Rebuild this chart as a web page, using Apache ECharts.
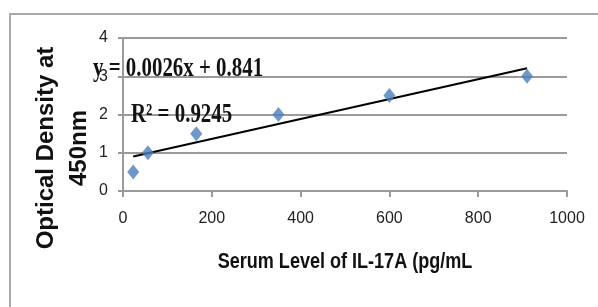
<!DOCTYPE html>
<html>
<head>
<meta charset="utf-8">
<script src="https://cdn.jsdelivr.net/npm/echarts@6/dist/echarts.min.js"></script>
<style>
    html, body { margin: 0; padding: 0; background: #fff; }
    #chart { width: 598px; height: 307px; }
</style>
</head>
<body>
<div id="chart"></div>
<script>
// Standard curve points: serum IL-17A (pg/mL) vs optical density at 450nm
const serumLevels = [23, 56, 165, 350, 600, 910];
const opticalDensity = [0.5, 1.0, 1.5, 2.0, 2.5, 3.0];

// Linear trendline as printed on the chart
const trendSlope = 0.0026;
const trendIntercept = 0.841;
const equationText = 'y = 0.0026x + 0.841';
const rSquaredText = 'R² = 0.9245';

const xTitle = 'Serum Level of IL-17A (pg/mL';
const yTitle = 'Optical Density at\n450nm';

const points = serumLevels.map((x, i) => [x, opticalDensity[i]]);
const xStart = Math.min(...serumLevels);
const xEnd = Math.max(...serumLevels);
const trendPoints = [
    [xStart, trendSlope * xStart + trendIntercept],
    [xEnd, trendSlope * xEnd + trendIntercept]
];

const gray = '#9a9a9a';
const sans = '"Liberation Sans", Arial, sans-serif';
const serif = '"Liberation Serif", "Times New Roman", serif';

const chart = echarts.init(document.getElementById('chart'));

chart.setOption({
    animation: false,
    backgroundColor: '#fff',
    grid: { left: 123, right: 31, top: 38, bottom: 116 },
    xAxis: {
        type: 'value',
        min: 0,
        max: 1000,
        interval: 200,
        splitLine: { show: false },
        axisLine: { lineStyle: { color: gray, width: 2 } },
        axisTick: { show: true, length: 6, lineStyle: { color: gray, width: 2 } },
        axisLabel: {
            margin: 20,
            fontFamily: sans,
            fontSize: 16,
            color: '#222',
            formatter: (v) => String(v)
        }
    },
    yAxis: {
        type: 'value',
        min: 0,
        max: 4,
        interval: 1,
        splitLine: { show: true, lineStyle: { color: gray, width: 2 } },
        axisLine: { show: true, lineStyle: { color: gray, width: 2 } },
        axisTick: { show: true, length: 5, lineStyle: { color: gray, width: 2 } },
        axisLabel: { margin: 15, fontFamily: sans, fontSize: 16, color: '#222' }
    },
    series: [
        {
            type: 'line',
            data: trendPoints,
            symbol: 'none',
            silent: true,
            lineStyle: { color: '#000', width: 2 },
            z: 3
        },
        {
            type: 'scatter',
            data: points,
            symbol: 'diamond',
            symbolSize: [12, 15],
            itemStyle: { color: '#4a7ebb' },
            z: 4
        }
    ],
    graphic: [
        {
            // outer chart-area border (cut off on the right and bottom)
            type: 'rect',
            shape: { x: 10, y: 14, width: 600, height: 310 },
            style: { fill: 'none', stroke: '#aaa', lineWidth: 2 },
            z: -1
        },
        {
            type: 'text',
            x: 63,
            y: 148,
            rotation: Math.PI / 2,
            style: {
                text: yTitle,
                fontFamily: sans,
                fontWeight: 'bold',
                fontSize: 24,
                lineHeight: 33,
                fill: '#111',
                align: 'center',
                verticalAlign: 'middle'
            },
            z: 10
        },
        {
            type: 'text',
            x: 345,
            y: 262,
            scaleX: 0.82,
            style: {
                text: xTitle,
                fontFamily: sans,
                fontWeight: 'bold',
                fontSize: 22,
                fill: '#111',
                align: 'center',
                verticalAlign: 'middle'
            },
            z: 10
        },
        {
            type: 'text',
            x: 93,
            y: 69,
            scaleX: 0.95,
            scaleY: 1.2,
            style: {
                text: equationText,
                fontFamily: serif,
                fontWeight: 'bold',
                fontSize: 22,
                fill: '#111',
                align: 'left',
                verticalAlign: 'middle'
            },
            z: 10
        },
        {
            type: 'text',
            x: 131,
            y: 115,
            scaleX: 0.95,
            scaleY: 1.2,
            style: {
                text: rSquaredText,
                fontFamily: serif,
                fontWeight: 'bold',
                fontSize: 22,
                fill: '#111',
                align: 'left',
                verticalAlign: 'middle'
            },
            z: 10
        }
    ]
});
</script>
</body>
</html>
